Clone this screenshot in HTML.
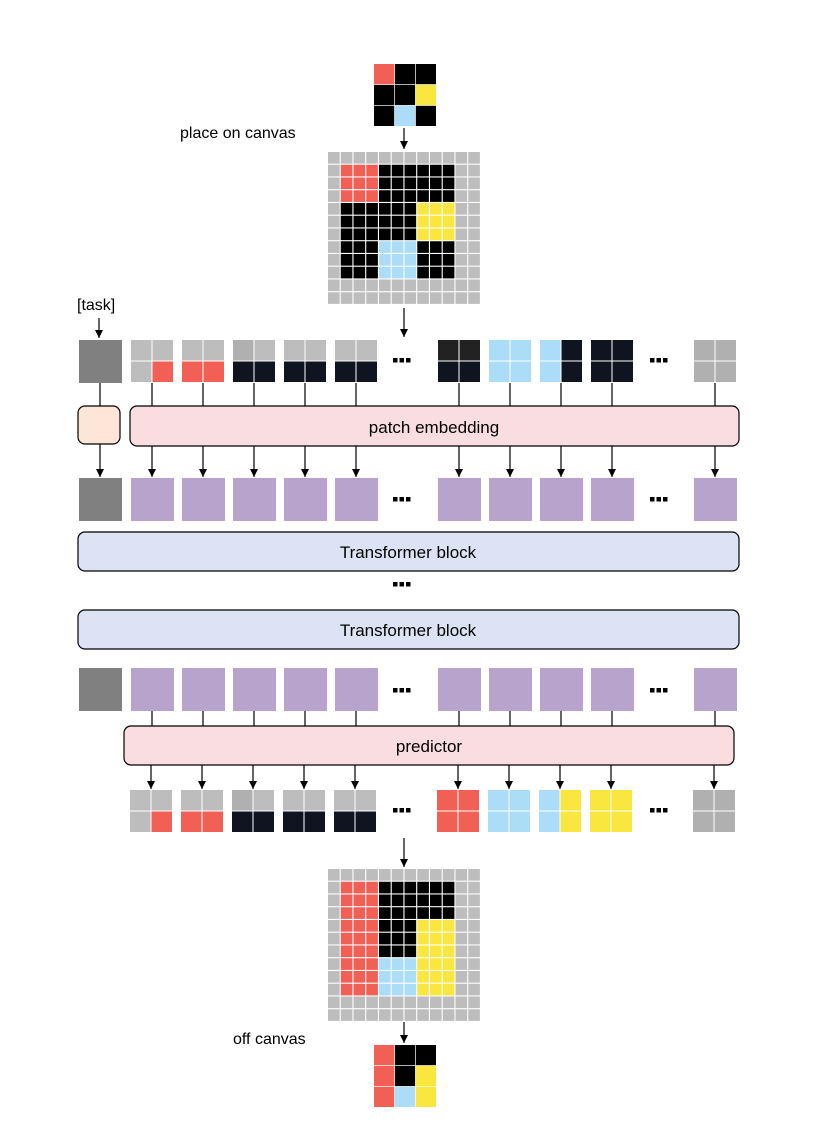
<!DOCTYPE html>
<html><head><meta charset="utf-8"><style>
html,body{margin:0;padding:0;background:#fff;}
svg{display:block;font-family:"Liberation Sans",Arial,sans-serif;}
</style></head><body>
<svg id="s" width="816" height="1126" viewBox="0 0 816 1126" xmlns="http://www.w3.org/2000/svg">
<defs><marker id="a" markerWidth="9" markerHeight="9" refX="8" refY="4" orient="auto" markerUnits="userSpaceOnUse"><path d="M0,0 L8,4 L0,8 z" fill="#000"/></marker></defs>
<g id="g"></g>
<text x="180" y="138" font-size="16" fill="#000">place on canvas</text>
<text x="77" y="310" font-size="16" fill="#000">[task]</text>
<text x="233" y="1044" font-size="16" fill="#000">off canvas</text>
<rect x="78" y="406" width="42" height="38" rx="7" fill="#fde5d7" stroke="#000" stroke-width="1.2"/>
<rect x="130" y="406" width="609" height="40" rx="7" fill="#f9dde1" stroke="#000" stroke-width="1.2"/>
<text x="434" y="433" font-size="17" text-anchor="middle">patch embedding</text>
<rect x="78" y="532" width="661" height="39" rx="7" fill="#dce3f4" stroke="#000" stroke-width="1.2"/>
<text x="408" y="558" font-size="17" text-anchor="middle">Transformer block</text>
<rect x="78" y="610" width="661" height="39" rx="7" fill="#dce3f4" stroke="#000" stroke-width="1.2"/>
<text x="408" y="636" font-size="17" text-anchor="middle">Transformer block</text>
<rect x="124" y="726" width="610" height="39" rx="7" fill="#f9dde1" stroke="#000" stroke-width="1.2"/>
<text x="429" y="752" font-size="17" text-anchor="middle">predictor</text>
</svg>
<script>
var g=document.getElementById('g'),NS='http://www.w3.org/2000/svg';
function R(x,y,w,h,f){var r=document.createElementNS(NS,'rect');r.setAttribute('x',x);r.setAttribute('y',y);r.setAttribute('width',w);r.setAttribute('height',h);r.setAttribute('fill',f);g.appendChild(r);}
function L(x1,y1,x2,y2,arr){var l=document.createElementNS(NS,'line');l.setAttribute('x1',x1);l.setAttribute('y1',y1);l.setAttribute('x2',x2);l.setAttribute('y2',y2);l.setAttribute('stroke','#000');l.setAttribute('stroke-width','1.2');if(arr)l.setAttribute('marker-end','url(#a)');g.appendChild(l);}
var C={g:'#bdbdbd',d:'#b0b0b0',r:'#f25f55',k:'#000',n:'#0f1420',y:'#f9e63f',b:'#abdcf8',h:'#222',G:'#808080',P:'#b7a3cc'};
function grid(x,y,n,cs,m,gap){for(var i=0;i<n;i++)for(var j=0;j<n;j++)R(x+j*cs,y+i*cs,cs-gap,cs-gap,C[m[i][j]]);}
grid(374,64,3,20.9,['rkk','kky','kbk'],0.7);
grid(374,1045,3,20.9,['rkk','rky','rby'],0.7);
function canvas(y,m){R(328,y,154,152,'#fff');grid(328,y,12,12.75,m,1.1);}
canvas(152,['gggggggggggg','grrrkkkkkkgg','grrrkkkkkkgg','grrrkkkkkkgg','gkkkkkkyyygg','gkkkkkkyyygg','gkkkkkkyyygg','gkkkbbbkkkgg','gkkkbbbkkkgg','gkkkbbbkkkgg','gggggggggggg','gggggggggggg']);
canvas(869,['gggggggggggg','grrrkkkkkkgg','grrrkkkkkkgg','grrrkkkkkkgg','grrrkkkyyygg','grrrkkkyyygg','grrrkkkyyygg','grrrbbbyyygg','grrrbbbyyygg','grrrbbbyyygg','gggggggggggg','gggggggggggg']);
var X=[131,182,233,284,335,438,489,540,591,694];
function patch(x,y,p){var s=21.5;R(x,y,s-1,s-1,C[p[0]]);R(x+s,y,s-1,s-1,C[p[1]]);R(x,y+s,s-1,s-1,C[p[2]]);R(x+s,y+s,s-1,s-1,C[p[3]]);}
var P1=['gggr','ggrr','dgnn','ggnn','ggnn','hhnn','bbbb','bnbn','nnnn','dddd'];
var P4=['gggr','ggrr','dgnn','ggnn','ggnn','rrrr','bbbb','byby','yyyy','dddd'];
function dots(x,y){for(var k=0;k<3;k++)R(x+k*6.5,y,4.5,4.5,'#000');}
R(79,340,43,43,C.G);
X.forEach(function(x,i){patch(x,340,P1[i]);});
dots(393,358);dots(650,358);
R(79,478,43,43,C.G);X.forEach(function(x){R(x,478,43,43,C.P);});
dots(393,497);dots(650,497);
dots(393,582);
R(79,668,43,43,C.G);X.forEach(function(x){R(x,668,43,43,C.P);});
dots(393,688);dots(650,688);
X.forEach(function(x,i){patch(x-1,790,P4[i]);});
dots(393,808);dots(650,808);
L(404,128,404,149,1);L(404,308,404,337,1);L(99,318,99,338,1);
L(100,383,100,406);L(100,444,100,477,1);
X.forEach(function(x){var c=x+21;L(c,383,c,406);L(c,446,c,477,1);L(c,711,c,726);L(c-1,765,c-1,789,1);});
L(404,838,404,867,1);L(404,1022,404,1043,1);
</script>
</body></html>
